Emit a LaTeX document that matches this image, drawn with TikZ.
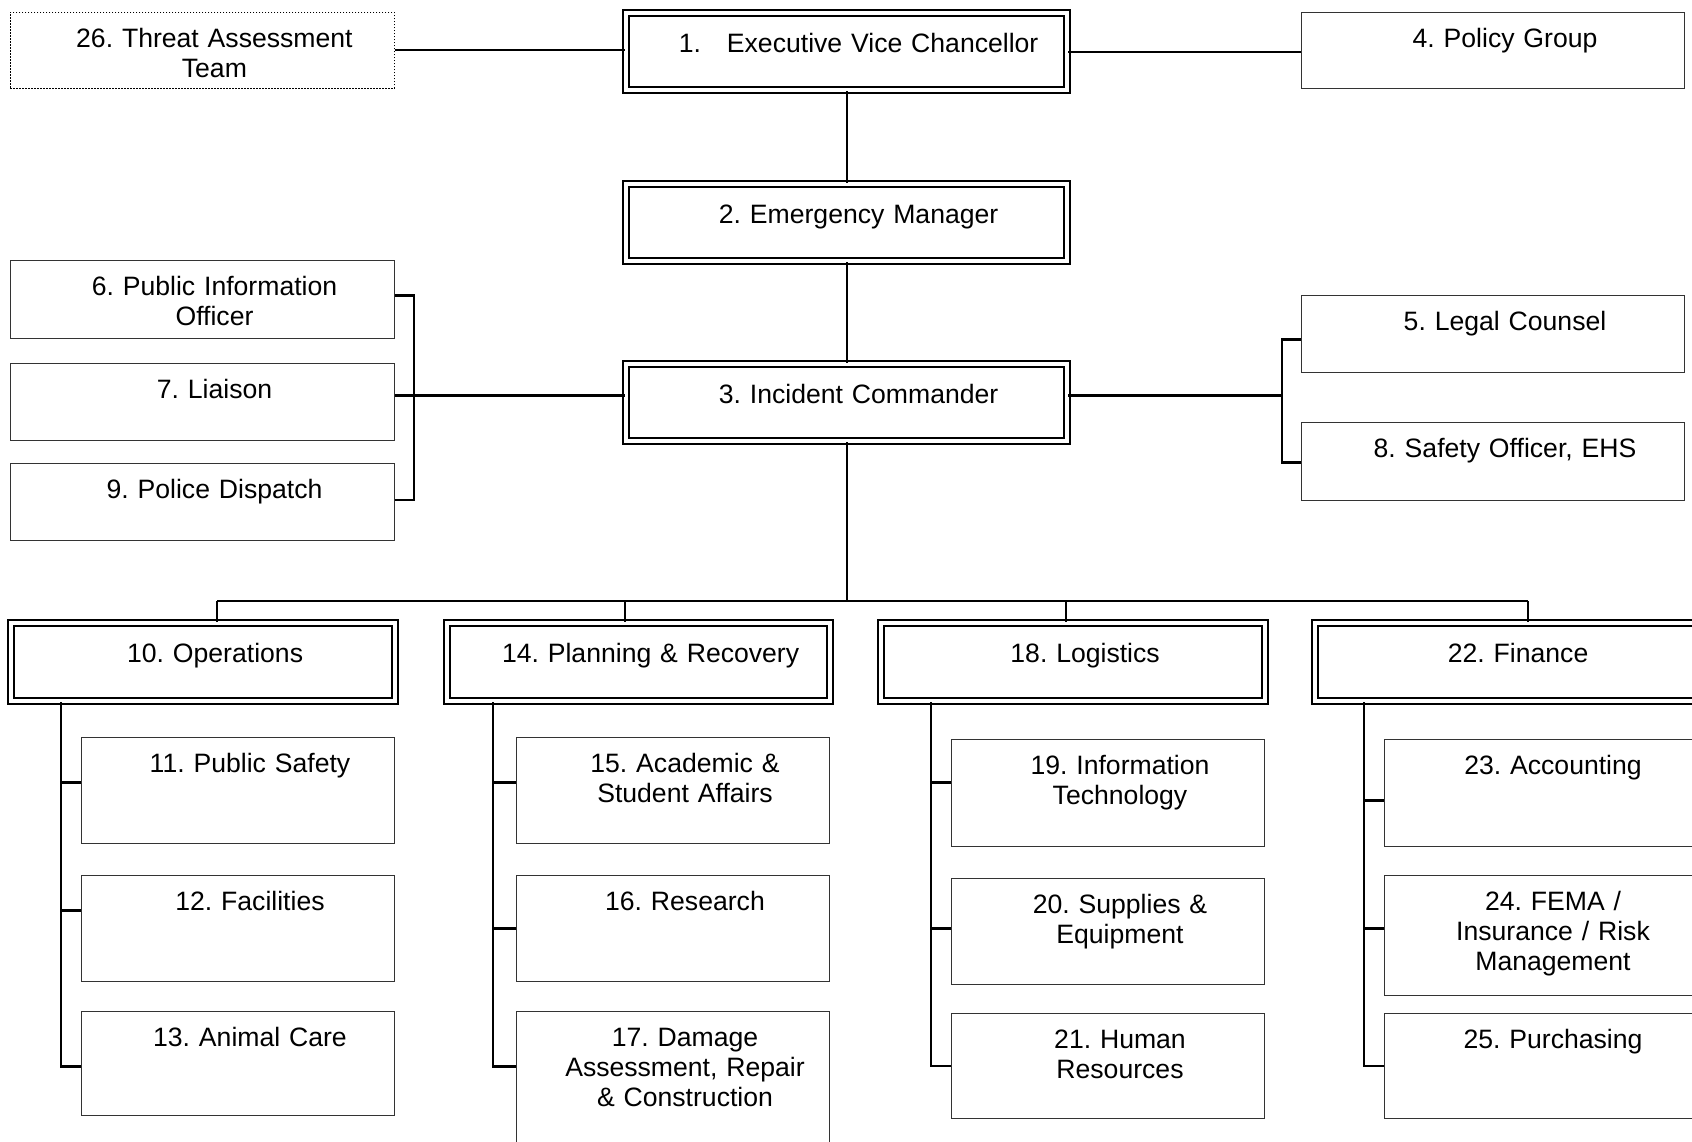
\documentclass[tikz,border=0pt]{standalone}
\usepackage{fontspec}
\setmainfont{Liberation Sans}
\frenchspacing
\newcommand\ctr{\leftskip=12pt plus 1fil\rightskip=0pt plus 1fil\parfillskip=0pt\relax}

\begin{document}
\begin{tikzpicture}[x=0.5pt,y=-0.5pt,
        unit/.style={draw=black!80,line width=0.5pt,inner sep=0pt,anchor=north west,
            font=\fontsize{13.3}{15}\selectfont,text height=17.5pt,execute at begin node=\ctr},
        lead/.style={unit,draw=black,line width=1.1pt,double,double distance=1.9pt,text height=19.5pt},
        team/.style={unit,draw=black,line width=0.4pt,dash pattern=on 0.6pt off 0.9pt},
        link/.style={line width=1.05pt}]
    \path[use as bounding box] (0,0) rectangle (1692,1141);
    \clip (0,0) rectangle (1692,1141);

    % Command level
    \node[lead,text width=220.5pt,text depth=19pt] (b1) at (625,12) {1.\hspace{13pt}Executive Vice Chancellor};
    \node[lead,text width=220.5pt,text depth=19pt] (b2) at (625,183) {2. Emergency Manager};
    \node[lead,text width=220.5pt,text depth=19pt] (b3) at (625,363) {3. Incident Commander};
    \node[team,text width=192pt,text depth=20.5pt] (b26) at (10,12) {26. Threat Assessment\par Team};
    \node[unit,text width=191.5pt,text depth=20.5pt] (b4) at (1301,12) {4. Policy Group};

    % Command staff
    \node[unit,text width=192pt,text depth=21.5pt] (b6) at (10,260) {6. Public Information\par Officer};
    \node[unit,text width=192pt,text depth=21pt] (b7) at (10,363) {7. Liaison};
    \node[unit,text width=192pt,text depth=21pt] (b9) at (10,463) {9. Police Dispatch};
    \node[unit,text width=191.5pt,text depth=21pt] (b5) at (1301,295) {5. Legal Counsel};
    \node[unit,text width=191.5pt,text depth=21.5pt] (b8) at (1301,422) {8. Safety Officer, EHS};

    % Sections
    \node[lead,text width=192pt,text depth=19.5pt] (b10) at (10,622) {10. Operations};
    \node[lead,text width=191.5pt,text depth=19.5pt] (b14) at (446,622) {14. Planning \& Recovery};
    \node[lead,text width=192pt,text depth=19.5pt] (b18) at (880,622) {18. Logistics};
    \node[lead,text width=191pt,text depth=19.5pt] (b22) at (1314,622) {22. Finance};

    % Branches
    \node[unit,text width=156.5pt,text depth=35.5pt] (b11) at (81,737) {11. Public Safety};
    \node[unit,text width=156.5pt,text depth=35.5pt] (b12) at (81,875) {12. Facilities};
    \node[unit,text width=156.5pt,text depth=34.5pt] (b13) at (81,1011) {13. Animal Care};
    \node[unit,text width=156.5pt,text depth=35.5pt] (b15) at (516,737) {15. Academic \&\par Student Affairs};
    \node[unit,text width=156.5pt,text depth=35.5pt] (b16) at (516,875) {16. Research};
    \node[unit,text width=156.5pt,text depth=57.5pt] (b17) at (516,1011) {17. Damage\par Assessment, Repair\par \& Construction};
    \node[unit,text width=156.5pt,text depth=36pt] (b19) at (951,739) {19. Information\par Technology};
    \node[unit,text width=156.5pt,text depth=35.5pt] (b20) at (951,878) {20. Supplies \&\par Equipment};
    \node[unit,text width=156.5pt,text depth=35pt] (b21) at (951,1013) {21. Human\par Resources};
    \node[unit,text width=156.5pt,text depth=36pt] (b23) at (1384,739) {23. Accounting};
    \node[unit,text width=156.5pt,text depth=42.5pt] (b24) at (1384,875) {24. FEMA /\par Insurance / Risk\par Management};
    \node[unit,text width=156.5pt,text depth=35pt] (b25) at (1384,1013) {25. Purchasing};

    % Chain of command
    \draw[link] (b26.east) -- (b26.east -| b1.west);
    \draw[link] (b1.east) -- (b1.east -| b4.west);
    \draw[link] (b1) -- (b2);
    \draw[link] (b2) -- (b3);

    % Staff brackets
    \coordinate (t6) at ([yshift=2pt]b6.east);
    \coordinate (t9) at ([yshift=1pt]b9.east);
    \coordinate (lb) at ([xshift=9.5pt]t9);
    \draw[link] (t6) -| (lb) -- (t9);
    \coordinate (t7) at ([yshift=3.25pt]b7.east);
    \draw[link] (t7) -- (t7 -| b3.west);

    \coordinate (t5) at ([yshift=-2.75pt]b5.west);
    \coordinate (t8) at ([yshift=-0.5pt]b8.west);
    \coordinate (rb) at ([xshift=-9.5pt]t8);
    \draw[link] (t5) -| (rb) -- (t8);
    \draw[link] (t7 -| b3.east) -- (t7 -| rb);

    % Bus to the sections
    \coordinate (j10) at (217,601);
    \coordinate (j14) at (625,601);
    \coordinate (j18) at (1066,601);
    \coordinate (j22) at (1528,601);
    \draw[link] (b3.south) -- (b3.south |- j10);
    \draw[link] (j10) -- (j22);
    \draw[link] (j10) -- (j10 |- b10.north);
    \draw[link] (j14) -- (j14 |- b14.north);
    \draw[link] (j18) -- (j18 |- b18.north);
    \draw[link] (j22) -- (j22 |- b22.north);

    % Operations
    \coordinate (t13) at ([yshift=-1.5pt]b13.west);
    \coordinate (k10) at ([xshift=-10pt]t13);
    \draw[link] (k10 |- b10.south) |- (t13);
    \coordinate (t11) at ([yshift=4pt]b11.west);
    \draw[link] (t11) -- (t11 -| k10);
    \coordinate (t12) at ([yshift=9pt]b12.west);
    \draw[link] (t12) -- (t12 -| k10);

    % Planning
    \coordinate (t17) at ([yshift=10pt]b17.west);
    \coordinate (k14) at ([xshift=-11.5pt]t17);
    \draw[link] (k14 |- b14.south) |- (t17);
    \coordinate (t15) at ([yshift=4pt]b15.west);
    \draw[link] (t15) -- (t15 -| k14);
    \draw[link] (b16.west) -- (b16.west -| k14);

    % Logistics
    \coordinate (k18) at ([xshift=-10pt]b21.west);
    \draw[link] (k18 |- b18.south) |- (b21.west);
    \coordinate (t19) at ([yshift=5.25pt]b19.west);
    \draw[link] (t19) -- (t19 -| k18);
    \coordinate (t20) at ([yshift=1.5pt]b20.west);
    \draw[link] (t20) -- (t20 -| k18);

    % Finance
    \coordinate (k22) at ([xshift=-10pt]b25.west);
    \draw[link] (k22 |- b22.south) |- (b25.west);
    \coordinate (t23) at ([yshift=-3.75pt]b23.west);
    \draw[link] (t23) -- (t23 -| k22);
    \coordinate (t24) at ([yshift=3.5pt]b24.west);
    \draw[link] (t24) -- (t24 -| k22);

\end{tikzpicture}
\end{document}
